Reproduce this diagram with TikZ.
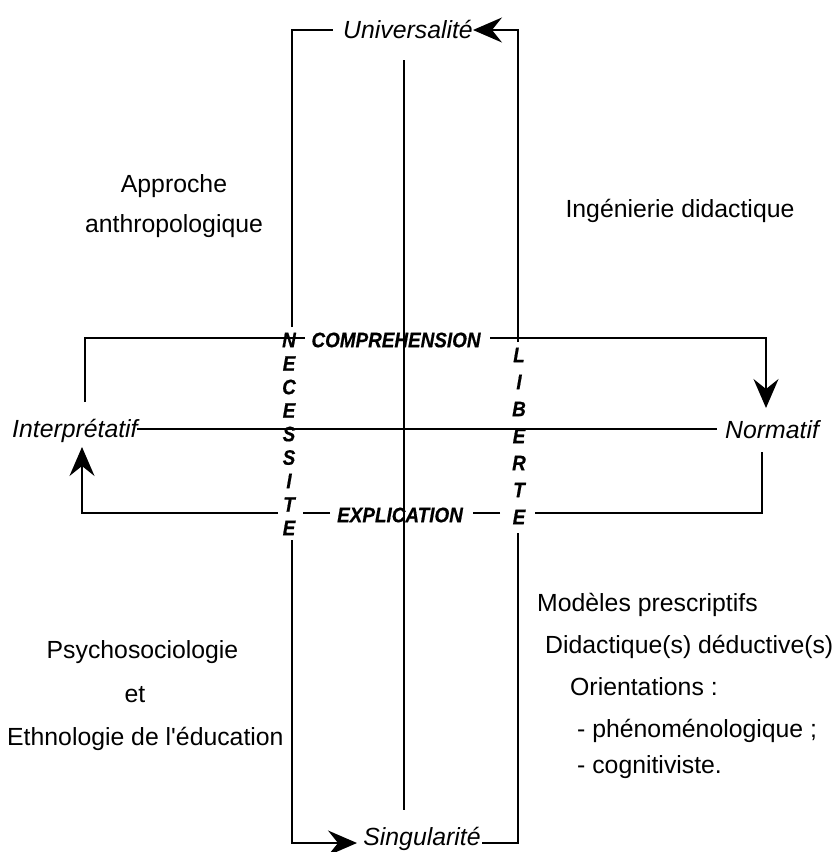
\documentclass[tikz,border=0pt]{standalone}
\usepackage{fontspec}
\setmainfont{Liberation Sans}
\newfontfamily\letfont[FakeStretch=0.9,FakeBold=0.6]{Liberation Sans}
\usetikzlibrary{arrows.meta}
\begin{document}
\begin{tikzpicture}[x=1pt,y=-1pt,
  ln/.style={line width=1.8pt, line join=miter},
  arr/.style={ln, -{Stealth[length=29pt,width=25pt,inset=10pt]}},
  lbl/.style={inner sep=0pt, font=\fontsize{24.8}{28}\selectfont},
  ilbl/.style={inner sep=0pt, font=\fontsize{24.8}{28}\selectfont\itshape},
  let/.style={inner sep=0pt, font=\fontsize{21}{23}\letfont\bfseries\itshape}]
\useasboundingbox (0,0) rectangle (840,852);
% text nodes
\node[ilbl, anchor=base] (univ) at (408,38) {Universalité};
\node[ilbl, anchor=base] (sing) at (422,845) {Singularité};
\node[ilbl, anchor=base west] (interp) at (12,437) {Interprétatif};
\node[ilbl, anchor=base west] (norm) at (725,438) {Normatif};
\node[lbl, anchor=base] (appr) at (174,192) {Approche};
\node[lbl, anchor=base] (anth) at (174,232) {anthropologique};
\node[lbl, anchor=base] (inge) at (680,217) {Ingénierie didactique};
\node[lbl, anchor=base west] (mod) at (537,611) {Modèles prescriptifs};
\node[lbl, anchor=base west] (did) at (545,653) {Didactique(s) déductive(s)};
\node[lbl, anchor=base west] (ori) at (570,695) {Orientations :};
\node[lbl, anchor=base west] (phe) at (577,737) {- phénoménologique ;};
\node[lbl, anchor=base west] (cog) at (577,773) {- cognitiviste.};
\node[lbl, anchor=base] (psy) at (142.5,658) {Psychosociologie};
\node[lbl, anchor=base] (et) at (135,702) {et};
\node[lbl, anchor=base west] (eth) at (7,745) {Ethnologie de l\textquotesingle éducation};
\node[let] (compr) at (396,340) {COMPREHENSION};
\node[let] (expl) at (400,515) {EXPLICATION};
% NECESSITE
\foreach \c/\y [count=\i] in {N/340,E/363.5,C/387,E/410.5,S/434,S/457.5,I/481,T/504.5,E/528}
  \node[let] (nec\i) at (289,\y) {\c};
% LIBERTE
\foreach \c/\y [count=\i] in {L/355,I/382,B/409,E/436,R/463,T/490,E/517}
  \node[let] (lib\i) at (519,\y) {\c};
% named coordinates
\coordinate (tl1) at (292,327);
\coordinate (tl2) at (292,30);
\coordinate (tl3) at (333,30);
\coordinate (tr1) at (518,342);
\coordinate (tr2) at (518,30);
\coordinate (tr3) at (473,30);
\coordinate (bl1) at (292,540);
\coordinate (bl2) at (292,843);
\coordinate (bl3) at (357,843);
\coordinate (br1) at (518,533);
\coordinate (br2) at (518,843);
\coordinate (br3) at (482,843);
\coordinate (c1) at (404,60);
\coordinate (c2) at (404,810);
\coordinate (m1) at (137,429);
\coordinate (m2) at (717,429);
\coordinate (ca) at (85,402);
\coordinate (cb) at (85,338);
\coordinate (cc) at (305,338);
\coordinate (cd) at (490,338);
\coordinate (ce) at (766,338);
\coordinate (cf) at (766,408);
\coordinate (ea) at (762,452);
\coordinate (eb) at (762,513);
\coordinate (ec) at (535,513);
\coordinate (ed) at (500,513);
\coordinate (ee) at (473,513);
\coordinate (ef) at (330,513);
\coordinate (eg) at (303,513);
\coordinate (eh) at (278,513);
\coordinate (ei) at (82,513);
\coordinate (ej) at (82,447);
% connectors
\draw[ln] (tl1) -- (tl2) -- (tl3);
\draw[arr] (tr1) -- (tr2) -- (tr3);
\draw[arr] (bl1) -- (bl2) -- (bl3);
\draw[ln] (br1) -- (br2) -- (br3);
\draw[ln] (m1) -- (m2);
\draw[ln] (ca) -- (cb) -- (cc);
\draw[arr] (cd) -- (ce) -- (cf);
\draw[ln] (ea) -- (eb) -- (ec);
\draw[ln] (ed) -- (ee);
\draw[ln] (ef) -- (eg);
\draw[arr] (eh) -- (ei) -- (ej);
\draw[ln] (c1) -- (c2);
\end{tikzpicture}
\end{document}
